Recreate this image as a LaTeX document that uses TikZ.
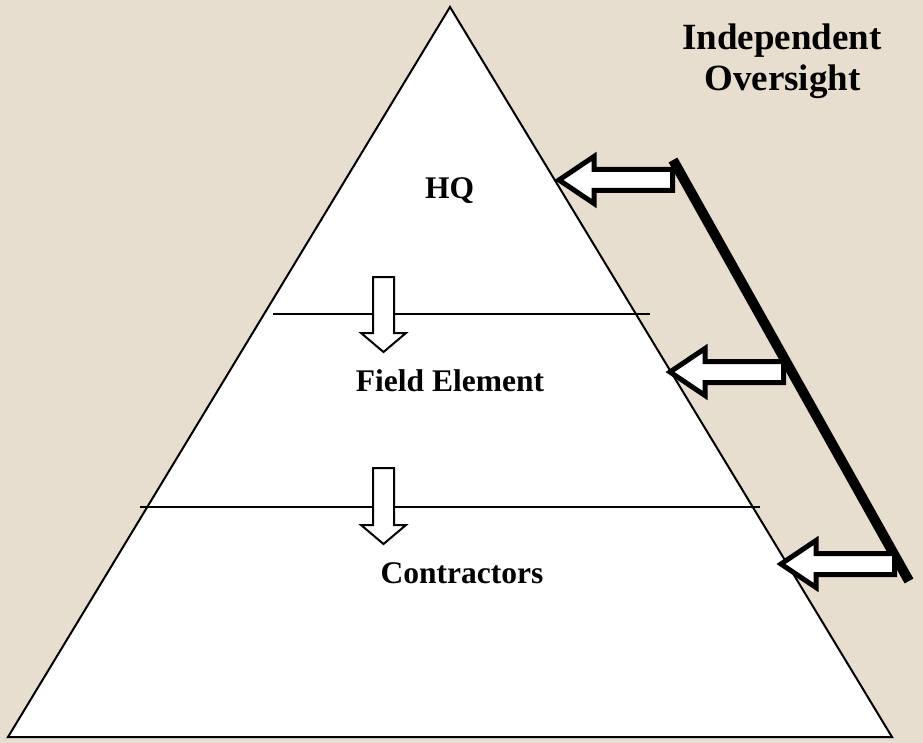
\documentclass[tikz,border=0pt]{standalone}
\usepackage{fontspec}
\setmainfont{Liberation Serif}
\begin{document}
\begin{tikzpicture}[x=1pt,y=-1pt,
  bg/.style={fill=bgcol},
  tier/.style={draw=black,line width=1.6pt},
  pyr/.style={draw=black,fill=white,line width=2pt,line join=miter},
  downarrow/.style={draw=black,fill=white,line width=2pt,line join=miter},
  leftarrow/.style={draw=black,fill=white,line width=5pt,line join=miter,miter limit=10},
  spine/.style={draw=black,line width=10pt},
  lbl/.style={font=\fontsize{31.5}{36}\selectfont\bfseries,anchor=base,inner sep=0pt},
  ttl/.style={font=\fontsize{37}{40}\selectfont\bfseries,anchor=base,inner sep=0pt,align=center}
]
\definecolor{bgcol}{RGB}{231,222,207}
\path[bg] (0,0) rectangle (923,743);
\useasboundingbox (0,0) rectangle (923,743);
% pyramid
\coordinate (apex) at (450,7);
\coordinate (bl) at (8,737);
\coordinate (br) at (892,737);
\path[pyr] (apex) -- (bl) -- (br) -- cycle;
% tier lines
\coordinate (t1l) at (273,314);
\coordinate (t1r) at (650,314);
\coordinate (t2l) at (140,507);
\coordinate (t2r) at (760,507);
\draw[tier] (t1l) -- (t1r);
\draw[tier] (t2l) -- (t2r);
% down arrows
\coordinate (d1) at (383.5,277);
\coordinate (d2) at (383.5,468);
\path[downarrow] (d1) ++(-10.5,0) -- ++(21,0) -- ++(0,56) -- ++(12,0) -- ++(-22.5,19) -- ++(-22.5,-19) -- ++(12,0) -- cycle;
\path[downarrow] (d2) ++(-10.5,0) -- ++(21,0) -- ++(0,57) -- ++(12,0) -- ++(-22.5,19) -- ++(-22.5,-19) -- ++(12,0) -- cycle;
% labels
\node[lbl] (hq) at (449.5,199) {HQ};
\node[lbl] (field) at (450,391) {Field Element};
\node[lbl] (contr) at (462,583) {Contractors};
\node[ttl] (ind) at (782,50) {Independent};
\node[ttl] (ovs) at (782.5,91) {Oversight};
% oversight spine
\coordinate (s1) at (673,160);
\coordinate (s2) at (909,581);
\draw[spine] (s1) -- (s2);
% left arrows
\foreach \nm/\tx/\ty in {a1/555/180, a2/666/372, a3/777/564}{
  \coordinate (\nm) at (\tx,\ty);
  \path[leftarrow] (\nm) ++(4,0) -- ++(35,-23.5) -- ++(0,13) -- ++(78.5,0) -- ++(0,21) -- ++(-78.5,0) -- ++(0,13) -- cycle;
}
\end{tikzpicture}
\end{document}
